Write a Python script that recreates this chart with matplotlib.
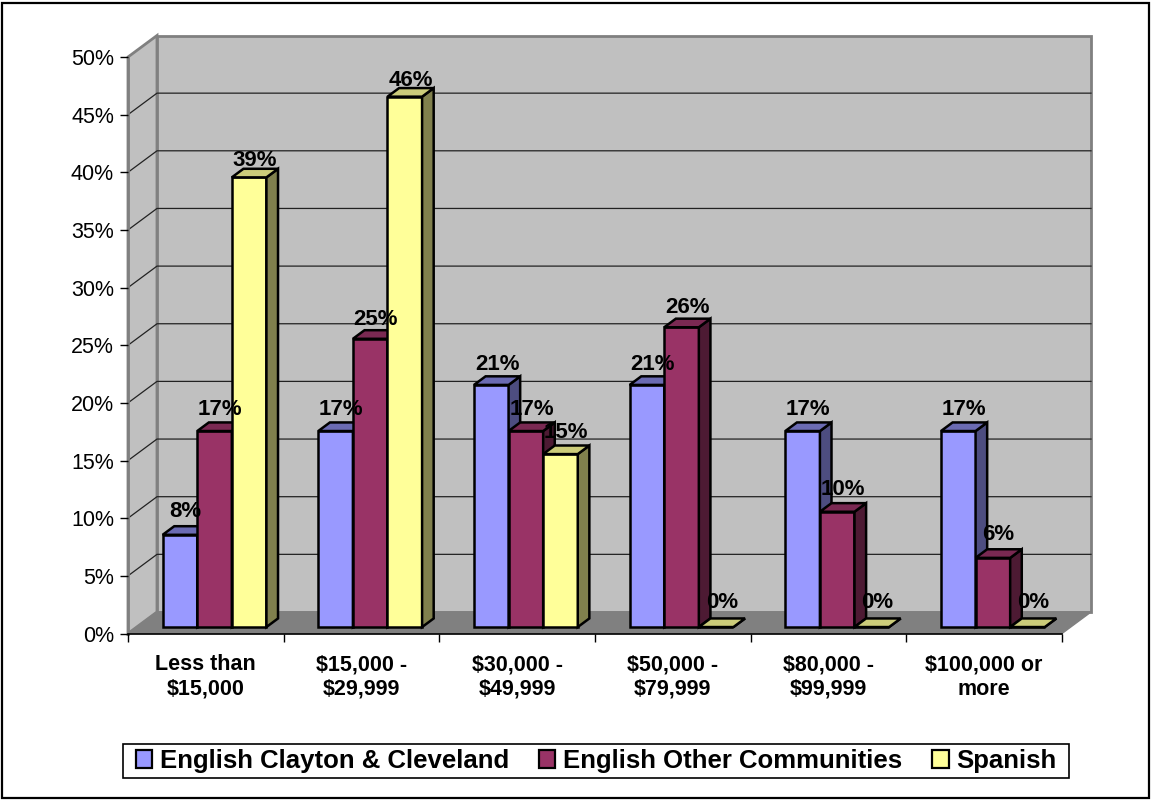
import matplotlib
matplotlib.use('Agg')
import matplotlib.pyplot as plt
from matplotlib.patches import Polygon, Patch, Rectangle
from matplotlib.ticker import FixedLocator, PercentFormatter
import numpy as np

# Household income by survey group (percent of respondents)
categories = ['Less than\n$15,000', '$15,000 -\n$29,999', '$30,000 -\n$49,999',
              '$50,000 -\n$79,999', '$80,000 -\n$99,999', '$100,000 or\nmore']
series_names = ['English Clayton & Cleveland', 'English Other Communities', 'Spanish']
clayton = [8, 17, 21, 21, 17, 17]
other = [17, 25, 17, 26, 10, 6]
spanish = [39, 46, 15, 0, 0, 0]
y_ticks = list(range(0, 55, 5))

front = ['#9999FF', '#993366', '#FFFF99']
top = ['#6B6BB3', '#7A2952', '#CCCC7A']
side = ['#4D4D80', '#4D1A33', '#80804D']

plt.rcParams['font.family'] = ['Liberation Sans', 'DejaVu Sans']

W, H = 1152, 800
fig = plt.figure(figsize=(W / 100, H / 100), dpi=100)
fig.patch.set_facecolor('white')

# front plane of the plot: x 128..1062 px, y 0% at 633.5 px, 50% at 57 px
ax = fig.add_axes([128 / W, (H - 633.5) / H, 934 / W, 576.5 / H])
ax.set_xlim(0, 6)
ax.set_ylim(0, 50)
ax.set_facecolor('none')

# depth of the box in data units (29 px right, 21.5 px up)
DX = 29 / (934 / 6)
DY = 21.5 / (576.5 / 50)
n_cat = len(categories)
wall_top = y_ticks[-1]

# side wall, back wall, floor
ax.add_patch(Polygon([(0, 0), (0, wall_top), (DX, wall_top + DY), (DX, DY)],
                     closed=True, facecolor='#C0C0C0', edgecolor='#808080',
                     lw=2, zorder=0.5, clip_on=False))
ax.add_patch(Polygon([(DX, DY), (DX, wall_top + DY), (n_cat + DX, wall_top + DY),
                      (n_cat + DX, DY)], closed=True, facecolor='#C0C0C0',
                     edgecolor='#808080', lw=2, zorder=0.5, clip_on=False))
for v in y_ticks[1:-1]:
    ax.plot([0, DX, n_cat + DX], [v, v + DY, v + DY], color='#222222', lw=0.9,
            zorder=0.8, clip_on=False)
ax.add_patch(Polygon([(0, 0), (n_cat, 0), (n_cat + DX, DY), (DX, DY)], closed=True,
                     facecolor='#808080', edgecolor='#808080', lw=1,
                     zorder=0.9, clip_on=False))

# bars: front face, top and side; each bar sits at mid depth
bw = 1 / 4.5
gap = 0.75 * bw
ox, oy = 0.3 * DX, 0.3 * DY
ddx, ddy = 0.4 * DX, 0.4 * DY
data = [clayton, other, spanish]
z = 2
for s, vals in enumerate(data):
    for i, v in enumerate(vals):
        x0 = i + gap + s * bw + ox
        x1 = x0 + bw
        b = oy
        t = oy + v
        ax.add_patch(Polygon([(x0, b), (x1, b), (x1, t), (x0, t)], closed=True,
                             facecolor=front[s], edgecolor='black', lw=1.8,
                             joinstyle='miter', zorder=z, clip_on=False))
        ax.add_patch(Polygon([(x1, b), (x1 + ddx, b + ddy), (x1 + ddx, t + ddy), (x1, t)],
                             closed=True, facecolor=side[s], edgecolor='black', lw=1.8,
                             joinstyle='miter', zorder=z, clip_on=False))
        ax.add_patch(Polygon([(x0, t), (x1, t), (x1 + ddx, t + ddy), (x0 + ddx, t + ddy)],
                             closed=True, facecolor=top[s], edgecolor='black', lw=1.8,
                             joinstyle='miter', zorder=z, clip_on=False))
    z += 1

# value labels above each bar; the gap shrinks a little for taller bars
for s, vals in enumerate(data):
    for i, v in enumerate(vals):
        xc = i + gap + s * bw + ox + bw / 2 + ddx / 2
        lift = max(0.2, 0.9 - 0.017 * v)
        ax.text(xc, oy + v + ddy + lift, f'{v}%', ha='center', va='baseline',
                fontsize=16, fontweight='bold', color='black', zorder=10,
                clip_on=False)

# axes styling
for sp in ['top', 'right']:
    ax.spines[sp].set_visible(False)
ax.spines['left'].set_color('#808080')
ax.spines['left'].set_linewidth(2)
ax.spines['left'].set_zorder(1)
ax.spines['bottom'].set_color('black')
ax.spines['bottom'].set_linewidth(1.2)
ax.spines['bottom'].set_zorder(1.5)

ax.yaxis.set_major_locator(FixedLocator(y_ticks))
ax.yaxis.set_major_formatter(PercentFormatter(decimals=0))
ax.tick_params(axis='y', direction='out', length=6, width=1, color='black',
               pad=4, labelsize=15.5)

ax.xaxis.set_major_locator(FixedLocator(np.arange(n_cat + 1)))
ax.xaxis.set_minor_locator(FixedLocator(np.arange(n_cat) + 0.5))
ax.set_xticklabels([], minor=False)
ax.set_xticklabels(categories, minor=True, fontsize=15.5, fontweight='bold',
                   linespacing=1.2)
ax.tick_params(axis='x', which='major', direction='out', length=6, width=1,
               color='black')
ax.tick_params(axis='x', which='minor', length=0, pad=15)

# legend, with a frame that has more room left and right than above and below
handles = [Patch(facecolor=c, edgecolor='black', lw=1.6) for c in front]
leg = fig.legend(handles, series_names, loc='center', ncol=3,
                 bbox_to_anchor=(596 / W, (H - 761) / H), frameon=False,
                 handlelength=0.65, handleheight=0.65, handletextpad=0.3,
                 columnspacing=1.15, borderpad=0.0, borderaxespad=0,
                 prop={'size': 18.5, 'weight': 'bold'})
fig.canvas.draw()
bb = leg.get_window_extent().transformed(fig.transFigure.inverted())
pad_x, pad_y = 13 / W, 5 / H
fig.patches.append(Rectangle((bb.x0 - pad_x, bb.y0 - pad_y), bb.width + 2 * pad_x,
                             bb.height + 2 * pad_y, transform=fig.transFigure,
                             fill=False, edgecolor='black', lw=1.2))

# outer border
fig.patches.append(Rectangle((2 / W, 2 / H), (W - 5) / W, (H - 5) / H,
                             transform=fig.transFigure, fill=False,
                             edgecolor='black', lw=1.6))

fig.savefig('out.png', dpi=100)
